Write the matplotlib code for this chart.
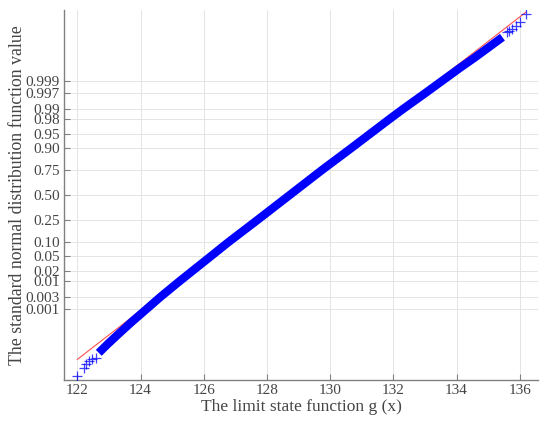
import matplotlib
matplotlib.use('Agg')
import matplotlib.pyplot as plt
import numpy as np
from statistics import NormalDist

# sample quantiles (n = 1e6 samples)
n_samples = 1e6
band_p = [1e-5, 3e-5, 1e-4, 3e-4, 0.001, 0.003, 0.01, 0.02, 0.05, 0.10, 0.25, 0.50,
          0.75, 0.90, 0.95, 0.98, 0.99, 0.997, 0.999, 0.9997, 0.9999, 0.99997, 0.99999]
band_x = [122.68, 122.98, 123.35, 123.72, 124.18, 124.64, 125.24, 125.64, 126.24, 126.77,
          127.70, 128.72, 129.74, 130.69, 131.25, 131.88, 132.31, 133.0, 133.55, 134.1,
          134.58, 135.05, 135.45]
# extreme order statistics, rank 1..6 from each end
low_x = [122.0, 122.22, 122.26, 122.36, 122.48, 122.58]
high_x = [136.2, 136.0, 135.88, 135.76, 135.66, 135.58]

tick_p = [0.001, 0.003, 0.01, 0.02, 0.05, 0.10, 0.25, 0.50, 0.75, 0.90, 0.95, 0.98, 0.99, 0.997, 0.999]
tick_lbl = ['0.001', '0.003', '0.01', '0.02', '0.05', '0.10', '0.25', '0.50', '0.75', '0.90',
            '0.95', '0.98', '0.99', '0.997', '0.999']
x_ticks = [122, 124, 126, 128, 130, 132, 134, 136]

nd = NormalDist()
z = lambda p: np.array([nd.inv_cdf(v) for v in p])

rank_p = [(i - 0.5) / n_samples for i in range(1, len(low_x) + 1)]
low_z = z(rank_p)
high_z = -low_z

plt.rcParams['font.family'] = ['Liberation Serif', 'DejaVu Serif']
txt = '#454545'

fig = plt.figure(figsize=(5.5, 4.28), dpi=100)
ax = fig.add_axes([0.1164, 0.1121, 0.862, 0.8645])

# band of plus markers
ax.plot(band_x, z(band_p), color='#0000ff', lw=6, solid_capstyle='butt', zorder=3)
ax.plot(low_x, low_z, '+', color='#0000ff', ms=7, mew=0.9, zorder=3, alpha=0.75)
ax.plot(high_x, high_z, '+', color='#0000ff', ms=7, mew=0.9, zorder=3, alpha=0.75)

# reference line through the quartiles
q1, q3 = band_x[band_p.index(0.25)], band_x[band_p.index(0.75)]
zq = nd.inv_cdf(0.75)
slope = 2 * zq / (q3 - q1)
xl = np.array([min(low_x), max(high_x)])
ax.plot(xl, -zq + slope * (xl - q1), color='#ff5050', lw=0.8, zorder=2)

ax.set_xlim(121.58, 136.58)
ax.set_ylim(-5.0, 5.0)
ax.set_xticks(x_ticks)
ax.set_yticks(z(tick_p))
ax.set_yticklabels(tick_lbl)
ax.grid(True, color='#e4e4e4', lw=0.7)
ax.set_axisbelow(True)
for s in ['top', 'right']:
    ax.spines[s].set_visible(False)
for s in ['left', 'bottom']:
    ax.spines[s].set_color('#808080')
    ax.spines[s].set_linewidth(1.0)
ax.tick_params(direction='in', length=4, color='#808080', labelsize=11, labelcolor=txt, pad=3)
ax.set_xlabel('The limit state function g (x)', fontsize=12.5, color=txt, labelpad=1)
ax.set_ylabel('The standard normal distribution function value', fontsize=12.8, color=txt, labelpad=0)

fig.savefig('out.png', dpi=100)
